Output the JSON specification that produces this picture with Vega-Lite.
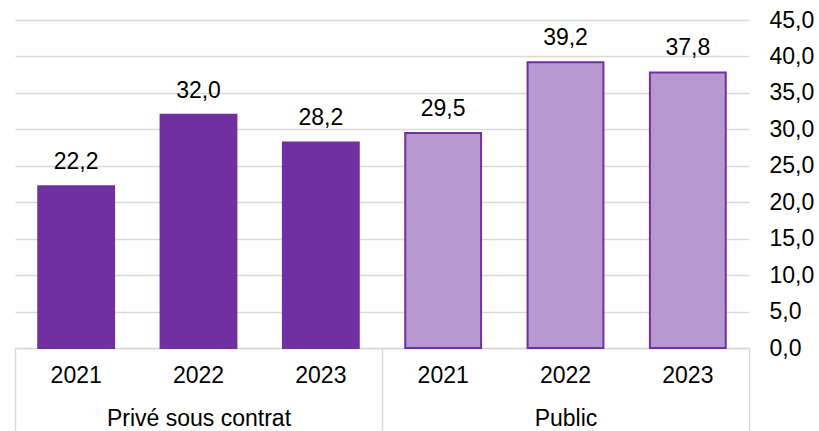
{
  "$schema": "https://vega.github.io/schema/vega-lite/v6.json",
  "width": 734,
  "height": 328,
  "autosize": {"type": "none"},
  "padding": {"left": 15, "top": 20, "right": 70, "bottom": 83},
  "config": {
    "view": {"stroke": null},
    "font": "Liberation Sans",
    "locale": {"number": {"decimal": ",", "thousands": " ", "grouping": [3], "currency": ["", " €"]}}
  },
  "data": {
    "values": [
      {"secteur": "Privé sous contrat", "annee": "2021", "valeur": 22.2},
      {"secteur": "Privé sous contrat", "annee": "2022", "valeur": 32.0},
      {"secteur": "Privé sous contrat", "annee": "2023", "valeur": 28.2},
      {"secteur": "Public", "annee": "2021", "valeur": 29.5},
      {"secteur": "Public", "annee": "2022", "valeur": 39.2},
      {"secteur": "Public", "annee": "2023", "valeur": 37.8}
    ]
  },
  "transform": [{"calculate": "datum.secteur + '|' + datum.annee", "as": "cle"}],
  "encoding": {
    "y": {
      "field": "valeur", "type": "quantitative",
      "scale": {"domain": [0, 45]},
      "axis": {
        "orient": "right", "title": null, "values": [0, 5, 10, 15, 20, 25, 30, 35, 40, 45],
        "format": ".1f", "labelFontSize": 23, "labelColor": "#000000", "labelPadding": 20,
        "labelOverlap": false, "labelBound": false,
        "ticks": false, "domain": false, "grid": true, "gridColor": "#d9d9d9", "gridWidth": 1.5
      }
    }
  },
  "layer": [
    {
      "encoding": {
        "x": {
          "field": "cle", "type": "nominal", "sort": null,
          "scale": {"paddingInner": 0.38, "paddingOuter": 0.19},
          "axis": {
            "orient": "bottom", "title": null, "labelAngle": 0,
            "labelExpr": "split(datum.value, '|')[1]",
            "labelFontSize": 23, "labelColor": "#000000", "labelPadding": 16,
            "ticks": false, "domain": true, "domainColor": "#d9d9d9", "domainWidth": 1.5
          }
        }
      },
      "layer": [
        {
          "mark": {"type": "bar", "stroke": "#7030A0", "strokeWidth": 2},
          "encoding": {
            "fill": {
              "field": "secteur", "type": "nominal",
              "scale": {"domain": ["Privé sous contrat", "Public"], "range": ["#7030A0", "#b898d0"]},
              "legend": null
            }
          }
        },
        {
          "mark": {"type": "text", "baseline": "alphabetic", "dy": -17, "fontSize": 23, "color": "#000000"},
          "encoding": {
            "text": {"field": "valeur", "type": "quantitative", "format": ".1f"}
          }
        }
      ]
    },
    {
      "mark": {"type": "bar", "opacity": 0},
      "encoding": {
        "x": {
          "field": "secteur", "type": "nominal", "sort": null,
          "scale": {"paddingInner": 0, "paddingOuter": 0},
          "axis": {
            "orient": "bottom", "title": null, "labelAngle": 0,
            "labelFontSize": 23, "labelColor": "#000000", "labelPadding": -24, "labelLimit": 0,
            "ticks": true, "tickSize": 83, "tickColor": "#d9d9d9", "tickWidth": 1.5,
            "tickBand": "extent", "tickExtra": true, "domain": false
          }
        }
      }
    }
  ],
  "resolve": {"scale": {"x": "independent"}}
}
